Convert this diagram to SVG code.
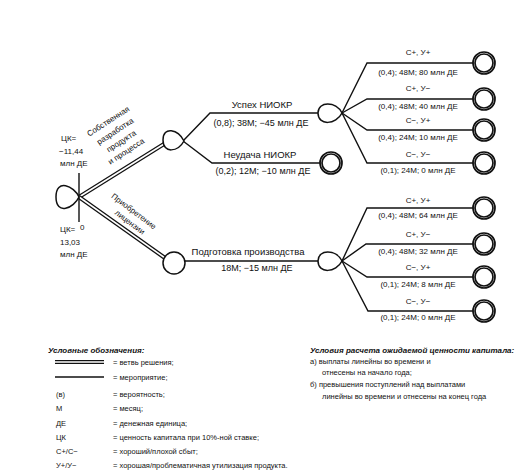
<svg xmlns="http://www.w3.org/2000/svg" width="527" height="475" viewBox="0 0 527 475">
<style>
text{font-family:"Liberation Sans",Arial,sans-serif;fill:#111;}
.t{font-size:9px;}
.n{font-size:9.5px;}
.s{font-size:8px;}
.l{font-size:7.5px;}
.m{text-anchor:middle;}
.ln{fill:none;stroke:#111;stroke-width:1.4;}
.dblo{fill:none;stroke:#111;stroke-width:4.2;}
.dbli{fill:none;stroke:#fff;stroke-width:1.6;}
.node{fill:#fff;stroke:#111;stroke-width:1.5;}
.end{fill:#fff;stroke:#111;stroke-width:1.7;}
.hd{font-size:8px;font-weight:bold;font-style:italic;}
</style>
<rect width="527" height="475" fill="#fff"/>

<g id="connectors">
  <path class="dblo" d="M79,197 L164,144"/>
  <path class="dbli" d="M79,197 L164,144"/>
  <path class="dblo" d="M79,197 L165,258"/>
  <path class="dbli" d="M79,197 L165,258"/>
  <path class="ln" d="M183,141 L210,113 H318"/>
  <path class="ln" d="M183,141 L212,163 H320"/>
  <path class="ln" d="M185,261 H318"/>
  <path class="ln" d="M342,113 L367,63 H473"/>
  <path class="ln" d="M342,113 L367,99 H473"/>
  <path class="ln" d="M342,113 L367,130 H473"/>
  <path class="ln" d="M342,113 L367,163 H473"/>
  <path class="ln" d="M342,261 L367,208 H473"/>
  <path class="ln" d="M342,261 L366,244 H473"/>
  <path class="ln" d="M342,261 L367,277 H473"/>
  <path class="ln" d="M342,261 L368,311 H473"/>
</g>

<g id="decision">
  <path class="node" d="M79,197 C74,186 56,178 56,197 C56,216 74,208 79,197 Z"/>
  <line x1="79" y1="173" x2="79" y2="222" stroke="#111" stroke-width="1.4"/>
  <text class="s" x="61" y="141">ЦК=</text>
  <text class="s" x="59" y="154">−11,44</text>
  <text class="s" x="60" y="166">млн ДЕ</text>
  <text class="s" x="60" y="232">ЦК=</text>
  <text class="s" x="60" y="245">13,03</text>
  <text class="s" x="60" y="257">млн ДЕ</text>
  <text class="s" x="80" y="230">0</text>
  <text class="s m" transform="translate(108,121) rotate(-33)" y="3">Собственная</text>
  <text class="s m" transform="translate(115,131) rotate(-33)" y="3">разработка</text>
  <text class="s m" transform="translate(121,141) rotate(-33)" y="3">продукта</text>
  <text class="s m" transform="translate(126,151) rotate(-33)" y="3">и процесса</text>
  <text class="s m" transform="translate(134,211) rotate(37)" y="3">Приобретение</text>
  <text class="s m" transform="translate(130,222) rotate(37)" y="3">лицензии</text>
</g>

<g id="chance-upper">
  <path class="node" d="M184,141 C178,129 163,126 163,140 C163,154 178,152 184,141 Z"/>
  <text class="n m" x="262" y="108">Успех НИОКР</text>
  <text class="t m" x="261" y="126">(0,8); 38M; −45 млн ДЕ</text>
  <text class="n m" x="260" y="158">Неудача НИОКР</text>
  <text class="t m" x="263" y="174">(0,2); 12M; −10 млн ДЕ</text>
</g>

<g id="end-fail">
  <circle class="end" cx="331" cy="163" r="11"/>
  <circle class="end" cx="331" cy="163" r="9"/>
</g>

<g id="chance-lower">
  <circle class="node" cx="174" cy="263" r="11"/>
  <text class="n m" x="248" y="255">Подготовка производства</text>
  <text class="t m" x="257" y="271">18M; −15 млн ДЕ</text>
</g>

<g id="chance-ur">
  <path class="node" d="M342,113 C336,101 318,101 318,113 C318,126 336,125 342,113 Z"/>
</g>
<g id="chance-lr">
  <path class="node" d="M342,261 C336,249 318,249 318,261 C318,274 336,273 342,261 Z"/>
</g>

<g id="outcomes-upper">
  <text class="s m" x="418" y="55">С+, У+</text>
  <text class="s m" x="418" y="75">(0,4); 48M; 80 млн ДЕ</text>
  <text class="s m" x="418" y="91">С+, У−</text>
  <text class="s m" x="418" y="109">(0,4); 48M; 40 млн ДЕ</text>
  <text class="s m" x="418" y="123">С−, У+</text>
  <text class="s m" x="418" y="140">(0,4); 24M; 10 млн ДЕ</text>
  <text class="s m" x="418" y="157">С−, У−</text>
  <text class="s m" x="418" y="173">(0,1); 24M; 0 млн ДЕ</text>
  <circle class="end" cx="484" cy="63" r="11"/><circle class="end" cx="484" cy="63" r="9"/>
  <circle class="end" cx="484" cy="99" r="11"/><circle class="end" cx="484" cy="99" r="9"/>
  <circle class="end" cx="484" cy="130" r="11"/><circle class="end" cx="484" cy="130" r="9"/>
  <circle class="end" cx="484" cy="163" r="11"/><circle class="end" cx="484" cy="163" r="9"/>
</g>

<g id="outcomes-lower">
  <text class="s m" x="418" y="203">С+, У+</text>
  <text class="s m" x="418" y="218">(0,4); 48M; 64 млн ДЕ</text>
  <text class="s m" x="418" y="237">С+, У−</text>
  <text class="s m" x="418" y="254">(0,4); 48M; 32 млн ДЕ</text>
  <text class="s m" x="418" y="270">С−, У+</text>
  <text class="s m" x="418" y="287">(0,1); 24M; 8 млн ДЕ</text>
  <text class="s m" x="418" y="304">С−, У−</text>
  <text class="s m" x="418" y="320">(0,1); 24M; 0 млн ДЕ</text>
  <circle class="end" cx="484" cy="208" r="11"/><circle class="end" cx="484" cy="208" r="9"/>
  <circle class="end" cx="484" cy="244" r="11"/><circle class="end" cx="484" cy="244" r="9"/>
  <circle class="end" cx="484" cy="277" r="11"/><circle class="end" cx="484" cy="277" r="9"/>
  <circle class="end" cx="484" cy="311" r="11"/><circle class="end" cx="484" cy="311" r="9"/>
</g>

<g id="legend">
  <text class="hd" x="48" y="353">Условные обозначения:</text>
  <path class="dblo" d="M55,362 H104"/><path class="dbli" d="M55,362 H104"/>
  <path class="ln" d="M55,377 H104"/>
  <text class="l" x="113" y="365">= ветвь решения;</text>
  <text class="l" x="113" y="380">= мероприятие;</text>
  <text class="l" x="56" y="397">(в)</text><text class="l" x="113" y="397">= вероятность;</text>
  <text class="l" x="56" y="411">М</text><text class="l" x="113" y="411">= месяц;</text>
  <text class="l" x="56" y="426">ДЕ</text><text class="l" x="113" y="426">= денежная единица;</text>
  <text class="l" x="56" y="440">ЦК</text><text class="l" x="113" y="440">= ценность капитала при 10%-ной ставке;</text>
  <text class="l" x="56" y="454">С+/С−</text><text class="l" x="113" y="454">= хороший/плохой сбыт;</text>
  <text class="l" x="56" y="468">У+/У−</text><text class="l" x="113" y="468">= хорошая/проблематичная утилизация продукта.</text>
</g>

<g id="conditions">
  <text class="hd" x="310" y="353">Условия расчета ожидаемой ценности капитала:</text>
  <text class="l" x="310" y="364">а) выплаты линейны во времени и</text>
  <text class="l" x="322" y="375">отнесены на начало года;</text>
  <text class="l" x="310" y="387">б) превышения поступлений над выплатами</text>
  <text class="l" x="322" y="399">линейны во времени и отнесены на конец года</text>
</g>
</svg>
